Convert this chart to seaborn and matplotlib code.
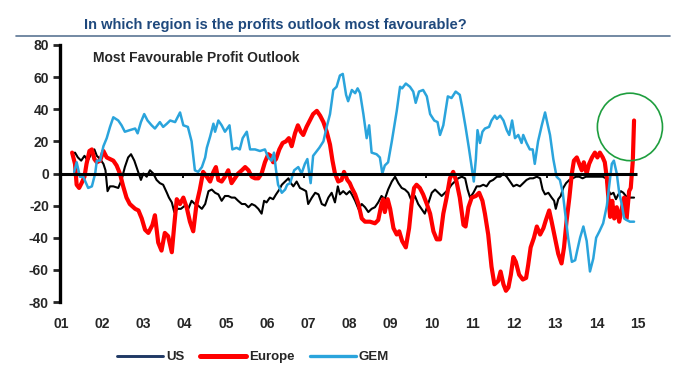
"""Profits outlook by region: US, Europe and GEM."""
import numpy as np
import pandas as pd
import seaborn as sns
import matplotlib
matplotlib.use('Agg')
import matplotlib.pyplot as plt
from matplotlib.lines import Line2D
from matplotlib.patches import Ellipse

# Series (decimal year, net balance)
us_years = [2001.27, 2001.34, 2001.41, 2001.49, 2001.57, 2001.65, 2001.73, 2001.81, 2001.87, 2001.95,
            2002.03, 2002.08, 2002.13, 2002.19, 2002.27, 2002.39, 2002.47, 2002.55, 2002.63, 2002.70,
            2002.78, 2002.86, 2002.94, 2003.00, 2003.08, 2003.16, 2003.24, 2003.32, 2003.40, 2003.48,
            2003.57, 2003.62, 2003.69, 2003.75, 2003.83, 2003.91, 2004.01, 2004.09, 2004.17, 2004.25,
            2004.33, 2004.42, 2004.50, 2004.58, 2004.66, 2004.74, 2004.82, 2004.90, 2004.98, 2005.06,
            2005.14, 2005.22, 2005.30, 2005.39, 2005.47, 2005.55, 2005.63, 2005.71, 2005.79, 2005.87,
            2005.93, 2005.99, 2006.07, 2006.15, 2006.22, 2006.30, 2006.36, 2006.44, 2006.52, 2006.58,
            2006.64, 2006.72, 2006.80, 2006.88, 2006.95, 2007.00, 2007.09, 2007.17, 2007.25, 2007.33,
            2007.41, 2007.49, 2007.57, 2007.65, 2007.72, 2007.77, 2007.85, 2007.93, 2008.01, 2008.06,
            2008.14, 2008.22, 2008.30, 2008.38, 2008.46, 2008.54, 2008.62, 2008.70, 2008.78, 2008.86,
            2008.94, 2009.03, 2009.11, 2009.19, 2009.27, 2009.35, 2009.43, 2009.51, 2009.59, 2009.67,
            2009.75, 2009.83, 2009.91, 2010.00, 2010.08, 2010.16, 2010.24, 2010.32, 2010.40, 2010.48,
            2010.56, 2010.64, 2010.73, 2010.81, 2010.87, 2010.93, 2011.01, 2011.09, 2011.17, 2011.25,
            2011.33, 2011.41, 2011.49, 2011.58, 2011.66, 2011.74, 2011.82, 2011.90, 2011.98, 2012.06,
            2012.14, 2012.22, 2012.30, 2012.38, 2012.46, 2012.55, 2012.63, 2012.69, 2012.75, 2012.83,
            2012.91, 2012.97, 2013.01, 2013.07, 2013.13, 2013.19, 2013.26, 2013.34, 2013.42, 2013.50,
            2013.58, 2013.66, 2013.74, 2013.82, 2013.91, 2013.99, 2014.07, 2014.15, 2014.23, 2014.28,
            2014.34, 2014.41, 2014.47, 2014.53, 2014.59, 2014.65, 2014.71, 2014.79, 2014.91]
us_values = [12, 13, 10, 8, 11, 8, 12, 15, 11, 9,
             6, 2, -11, -8, -8, -9, -4, 4, 10, 12,
             8, 2, -4, 0, -2, 2, 0, -4, -6, -7,
             -12, -15, -18, -24, -22, -22, -20, -22, -17, -19,
             -20, -22, -19, -11, -10, -12, -13, -17, -14, -14,
             -15, -15, -17, -19, -19, -21, -19, -20, -22, -25,
             -17, -18, -15, -16, -13, -10, -7, -5, -3, -6,
             -8, -5, -9, -10, -11, -19, -15, -12, -13, -19,
             -20, -15, -12, -18, -8, -13, -11, -13, -11, -13,
             -17, -22, -19, -21, -24, -22, -21, -18, -14, -16,
             -10, -5, -2, -6, -9, -10, -12, -17, -14, -19,
             -22, -25, -19, -12, -10, -12, -14, -12, -10, -7,
             -5, -3, -2, -3, -10, -15, -12, -8, -8, -7,
             -8, -5, -4, -2, -2, 0, -2, -5, -8, -7,
             -8, -6, -4, -3, -3, -2, -3, -10, -13, -12,
             -15, -17, -22, -16, -14, -9, -6, -4, -3, -2,
             -2, -3, -2, -2, -2, -2, -2, -2, -3, -10,
             -13, -12, -16, -13, -11, -12, -14, -15, -15]

europe_years = [2001.27, 2001.34, 2001.38, 2001.44, 2001.50, 2001.57, 2001.62, 2001.69, 2001.75, 2001.81,
                2001.87, 2001.95, 2002.03, 2002.11, 2002.19, 2002.27, 2002.35, 2002.43, 2002.51, 2002.59,
                2002.67, 2002.80, 2002.88, 2002.96, 2003.04, 2003.12, 2003.22, 2003.28, 2003.36, 2003.44,
                2003.52, 2003.60, 2003.69, 2003.75, 2003.81, 2003.89, 2003.97, 2004.05, 2004.13, 2004.21,
                2004.29, 2004.37, 2004.45, 2004.54, 2004.62, 2004.70, 2004.76, 2004.82, 2004.90, 2004.98,
                2005.06, 2005.14, 2005.22, 2005.30, 2005.39, 2005.47, 2005.55, 2005.63, 2005.71, 2005.79,
                2005.87, 2005.95, 2006.03, 2006.09, 2006.15, 2006.22, 2006.30, 2006.38, 2006.46, 2006.53,
                2006.60, 2006.68, 2006.75, 2006.82, 2006.88, 2006.96, 2007.04, 2007.12, 2007.21, 2007.29,
                2007.37, 2007.45, 2007.53, 2007.59, 2007.65, 2007.73, 2007.81, 2007.87, 2007.95, 2008.01,
                2008.06, 2008.14, 2008.22, 2008.30, 2008.38, 2008.50, 2008.62, 2008.70, 2008.78, 2008.82,
                2008.86, 2008.93, 2008.99, 2009.07, 2009.15, 2009.21, 2009.28, 2009.37, 2009.45, 2009.51,
                2009.57, 2009.63, 2009.71, 2009.79, 2009.88, 2009.96, 2010.04, 2010.12, 2010.20, 2010.28,
                2010.36, 2010.44, 2010.52, 2010.60, 2010.68, 2010.77, 2010.82, 2010.89, 2010.97, 2011.07,
                2011.15, 2011.23, 2011.29, 2011.37, 2011.45, 2011.52, 2011.61, 2011.67, 2011.74, 2011.80,
                2011.86, 2011.92, 2011.98, 2012.04, 2012.12, 2012.21, 2012.29, 2012.34, 2012.40, 2012.48,
                2012.55, 2012.63, 2012.71, 2012.77, 2012.85, 2012.91, 2012.99, 2013.07, 2013.15, 2013.21,
                2013.27, 2013.34, 2013.40, 2013.45, 2013.52, 2013.58, 2013.64, 2013.69, 2013.76, 2013.82,
                2013.89, 2013.96, 2014.02, 2014.08, 2014.15, 2014.20, 2014.25, 2014.28, 2014.33, 2014.38,
                2014.43, 2014.49, 2014.55, 2014.61, 2014.67, 2014.73, 2014.79, 2014.83, 2014.88, 2014.91]
europe_values = [13, 6, -7, -9, -6, -2, 6, 14, 15, 9,
                 7, 8, 14, 10, 9, 8, 5, 0, -8, -15,
                 -19, -22, -23, -28, -35, -37, -32, -26, -43, -48,
                 -37, -39, -49, -32, -16, -19, -15, -21, -30, -36,
                 -19, -10, 1, -2, -5, 1, 4, -4, -5, -2,
                 2, -6, -3, 0, 2, 4, 2, -2, -3, -3,
                 0, 7, 12, 11, 7, 9, 15, 19, 20, 22,
                 17, 25, 30, 26, 24, 29, 33, 37, 39, 36,
                 32, 26, 18, 8, 0, -5, -4, 1, -4, -6,
                 -9, -13, -19, -28, -30, -30, -31, -29, -19, -16,
                 -24, -16, -22, -34, -38, -36, -42, -46, -34, -19,
                 -9, -7, -9, -13, -19, -25, -36, -41, -41, -25,
                 -15, -3, 1, -5, -15, -32, -33, -21, -15, -14,
                 -12, -17, -25, -38, -58, -69, -67, -61, -69, -73,
                 -71, -63, -52, -55, -63, -66, -65, -57, -46, -40,
                 -33, -38, -34, -29, -23, -30, -40, -50, -56, -46,
                 -30, -15, 0, 8, 10, 6, 2, 7, 0, 6,
                 10, 13, 10, 13, 10, 7, -3, -13, -27, -17,
                 -28, -21, -30, -22, -15, -28, -11, -9, 8, 33]

gem_years = [2001.32, 2001.38, 2001.46, 2001.54, 2001.66, 2001.75, 2001.83, 2001.87, 2001.95, 2002.03,
             2002.11, 2002.19, 2002.27, 2002.39, 2002.47, 2002.55, 2002.67, 2002.80, 2002.86, 2002.94,
             2003.02, 2003.10, 2003.20, 2003.28, 2003.40, 2003.48, 2003.57, 2003.65, 2003.77, 2003.89,
             2003.97, 2004.08, 2004.17, 2004.25, 2004.33, 2004.42, 2004.50, 2004.54, 2004.62, 2004.70,
             2004.74, 2004.82, 2004.90, 2004.98, 2005.09, 2005.16, 2005.26, 2005.34, 2005.41, 2005.51,
             2005.59, 2005.71, 2005.83, 2005.95, 2006.03, 2006.11, 2006.17, 2006.22, 2006.27, 2006.36,
             2006.44, 2006.49, 2006.56, 2006.66, 2006.76, 2006.84, 2006.92, 2006.98, 2007.06, 2007.12,
             2007.21, 2007.27, 2007.37, 2007.45, 2007.53, 2007.61, 2007.69, 2007.77, 2007.84, 2007.92,
             2007.97, 2008.06, 2008.14, 2008.20, 2008.26, 2008.34, 2008.42, 2008.48, 2008.54, 2008.66,
             2008.74, 2008.80, 2008.86, 2008.94, 2009.03, 2009.15, 2009.23, 2009.28, 2009.37, 2009.47,
             2009.55, 2009.61, 2009.69, 2009.79, 2009.88, 2009.96, 2010.06, 2010.14, 2010.20, 2010.28,
             2010.39, 2010.48, 2010.58, 2010.68, 2010.74, 2010.82, 2010.90, 2010.97, 2011.02, 2011.07,
             2011.11, 2011.17, 2011.23, 2011.29, 2011.39, 2011.45, 2011.53, 2011.58, 2011.66, 2011.74,
             2011.82, 2011.88, 2011.95, 2012.02, 2012.10, 2012.18, 2012.22, 2012.30, 2012.38, 2012.45,
             2012.50, 2012.58, 2012.67, 2012.75, 2012.80, 2012.87, 2012.95, 2013.03, 2013.11, 2013.18,
             2013.23, 2013.31, 2013.40, 2013.48, 2013.53, 2013.60, 2013.68, 2013.76, 2013.84, 2013.92,
             2013.99, 2014.07, 2014.16, 2014.25, 2014.31, 2014.37, 2014.42, 2014.49, 2014.55, 2014.61,
             2014.67, 2014.73, 2014.81, 2014.91]
gem_values = [1, 7, -2, -2, -9, -8, 0, 8, 8, 17,
              22, 29, 35, 33, 30, 26, 27, 28, 25, 32,
              37, 33, 30, 28, 32, 29, 31, 33, 32, 38,
              30, 29, 20, 2, 1, 4, 10, 16, 23, 31,
              26, 33, 30, 26, 30, 15, 16, 15, 22, 26,
              15, 15, 14, 15, 10, 8, 13, 2, -7, -12,
              -10, -7, -6, 2, 4, 0, 6, 9, -6, 11,
              14, 16, 20, 29, 37, 52, 54, 61, 62, 49,
              45, 52, 50, 53, 50, 37, 22, 30, 13, 12,
              10, 0, 5, 7, 20, 39, 54, 53, 56, 54,
              51, 44, 51, 52, 48, 37, 33, 32, 24, 30,
              48, 47, 51, 49, 41, 29, 16, 4, -5, 9,
              27, 19, 26, 28, 29, 33, 36, 34, 36, 33,
              27, 24, 33, 22, 24, 19, 24, 19, 15, 15,
              6, 20, 30, 38, 32, 24, 9, -2, -4, -12,
              -23, -40, -55, -54, -48, -40, -33, -42, -61, -53,
              -40, -36, -31, -20, -7, 6, 8, 0, -12, -19,
              -28, -29, -30, -30]

regions = ['US', 'Europe', 'GEM']
legend_labels = ['US', 'Europe', 'GEM']
line_colors = {'US': '#000000', 'Europe': '#FF0000', 'GEM': '#2AA4DC'}
legend_colors = {'US': '#1F3864', 'Europe': '#FF0000', 'GEM': '#2AA4DC'}
line_widths = {'US': 1.5, 'Europe': 3.0, 'GEM': 1.8}
year_ticks = list(range(2001, 2016))
value_ticks = list(range(-80, 81, 20))
zero_ticks = [2001.0, 2003.95, 2006.9, 2009.85, 2012.8]

df = pd.concat([
    pd.DataFrame({'year': us_years, 'value': us_values, 'region': 'US'}),
    pd.DataFrame({'year': europe_years, 'value': europe_values, 'region': 'Europe'}),
    pd.DataFrame({'year': gem_years, 'value': gem_values, 'region': 'GEM'}),
], ignore_index=True)

sns.set_style('white')
plt.rcParams['font.family'] = ['Liberation Sans', 'DejaVu Sans']

fig = plt.figure(figsize=(6.9, 3.9), dpi=100)
ax = fig.add_axes([60 / 690, 88 / 390, 586 / 690, 257 / 390])

for region in regions:
    sub = df[df['region'] == region]
    sns.lineplot(data=sub, x='year', y='value', color=line_colors[region],
                 linewidth=line_widths[region], estimator=None, sort=False, ax=ax)

# Zero line with its own small ticks
ax.hlines(0, 2000.97, 2014.98, color='black', linewidth=2.2, zorder=5)
ax.vlines(zero_ticks, -2.5, 0, color='black', linewidth=1.3, zorder=5)

ax.set_xlim(2000.976, 2015.2)
ax.set_ylim(-80, 80)
ax.set_xticks(year_ticks)
ax.set_xticklabels([f'{y % 100:02d}' for y in year_ticks], fontsize=10, fontweight='bold')
ax.set_yticks(value_ticks)
ax.set_yticklabels([str(v) for v in value_ticks], fontsize=10, fontweight='bold')
ax.tick_params(axis='x', length=0, pad=11)
ax.tick_params(axis='y', length=5, width=2, pad=3, direction='out', left=True)
ax.set_xlabel('')
ax.set_ylabel('')
for side in ['top', 'right', 'bottom']:
    ax.spines[side].set_visible(False)
ax.spines['left'].set_linewidth(2.4)
ax.spines['left'].set_color('black')

ax.text(0.056, 0.95, 'Most Favourable Profit Outlook', transform=ax.transAxes,
        fontsize=10, fontweight='bold', va='center', ha='left')

# Highlight the latest Europe jump
ax.add_patch(Ellipse((2014.81, 29), 1.58, 42, fill=False, edgecolor='#1E9E3E',
                     linewidth=1.2, clip_on=False, zorder=6))

fig.text(84 / 690, 1 - 29 / 390, 'In which region is the profits outlook most favourable?',
         fontsize=10.5, fontweight='bold', color='#1F497D', va='baseline', ha='left')
fig.add_artist(Line2D([16 / 690, 670 / 690], [1 - 35.5 / 390] * 2, color='#5B7594', linewidth=1.2))

handles = [Line2D([0], [0], color=legend_colors[r], linewidth=line_widths[r] + 0.6) for r in regions]
fig.legend(handles, legend_labels, loc='center', bbox_to_anchor=(253 / 690, 1 - 357 / 390),
           ncol=3, frameon=False, handlelength=3.5, handletextpad=0.2, columnspacing=1.2,
           prop={'weight': 'bold', 'size': 9.5})

fig.savefig('out.png', dpi=100)
